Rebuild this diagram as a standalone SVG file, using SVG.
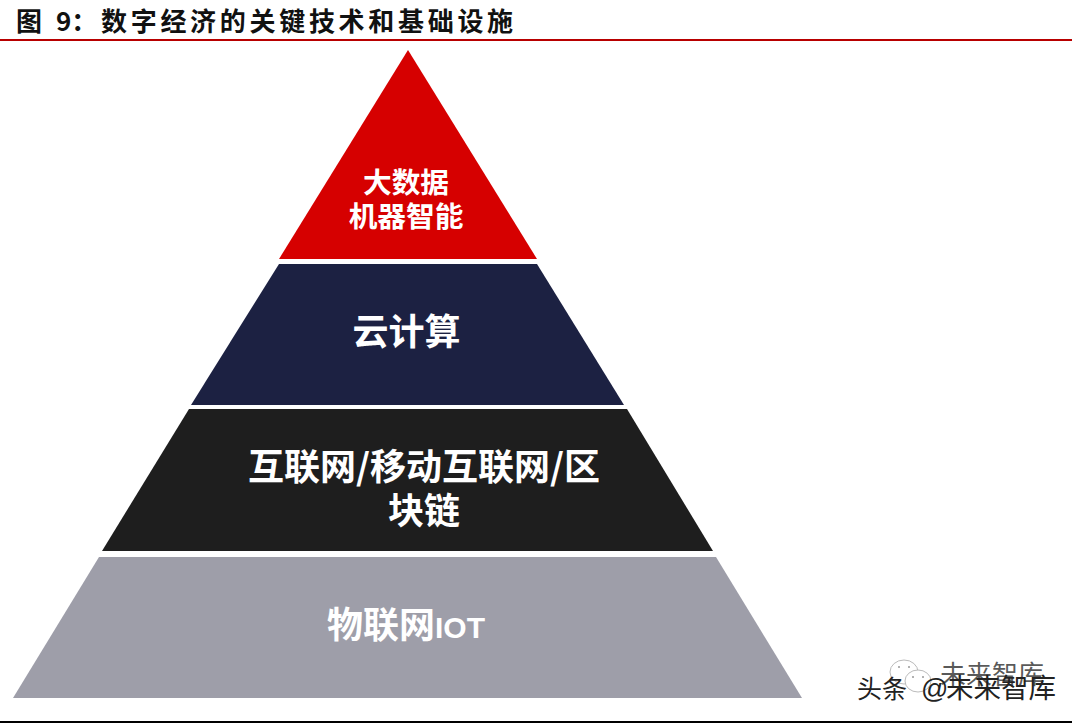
<svg xmlns="http://www.w3.org/2000/svg" width="1076" height="725" viewBox="0 0 1076 725">
<style>
.t{font-family:"Noto Sans CJK SC","Liberation Sans",sans-serif;font-weight:700;fill:#fff;text-anchor:middle}
.title{font-family:"Noto Sans CJK SC","Liberation Serif",serif;font-weight:700;font-size:26px;fill:#111}
.wm{font-family:"Noto Sans CJK SC","Liberation Sans",sans-serif;fill:#222}
.ic{fill:#fff;stroke:#bbb;stroke-width:1}
.eye{fill:#999}
.lat{font-family:"Liberation Sans",sans-serif}
</style>
<rect width="1076" height="725" fill="#fff"/>
<g id="title">
<text class="title" x="16" y="31">图</text>
<text class="title" x="56" y="31">9：</text>
<text class="title" x="101" y="31" letter-spacing="3.7">数字经济的关键技术和基础设施</text>
<rect x="0" y="39" width="1072" height="2" fill="#b80000"/>
</g>
<g id="layer-top">
<polygon points="408,50 537,259 279,259" fill="#d60000"/>
<text class="t" x="406" y="193" font-size="28.7">大数据</text>
<text class="t" x="406" y="227" font-size="28.7">机器智能</text>
</g>
<g id="layer-cloud">
<polygon points="279,264 537,264 624,405 191,405" fill="#1c2142"/>
<text class="t" x="406.500" y="345" font-size="36">云计算</text>
</g>
<g id="layer-net">
<polygon points="189,409 627,409 713,551 102,551" fill="#1e1e1e"/>
<text class="t" x="424" y="480" font-size="36">互联网/移动互联网/区</text>
<text class="t" x="424" y="524" font-size="36">块链</text>
</g>
<g id="layer-iot">
<polygon points="99,557 716,557 802,698 13,698" fill="#9e9ea9"/>
<text class="t" x="406" y="638" font-size="36">物联网<tspan class="lat" font-size="30">IOT</tspan></text>
</g>
<g id="footer">
<rect x="0" y="721" width="1072" height="2" fill="#000"/>
</g>
<g id="watermark">
<ellipse class="ic" cx="904" cy="672" rx="14" ry="12"/>
<ellipse class="ic" cx="918" cy="681" rx="13" ry="11"/>
<circle class="eye" cx="899" cy="667" r="1"/>
<circle class="eye" cx="909" cy="667" r="1"/>
<circle class="eye" cx="913" cy="677" r="1"/>
<circle class="eye" cx="923" cy="677" r="1"/>
<text class="wm" x="940" y="684" font-size="26" fill-opacity=".75">未来智库</text>
<text class="wm" x="857" y="698" font-size="25">头条</text>
<text class="wm lat" x="921" y="698" font-size="27">@</text>
<text class="wm" x="946" y="698" font-size="27.500">未来智库</text>
</g>
</svg>
